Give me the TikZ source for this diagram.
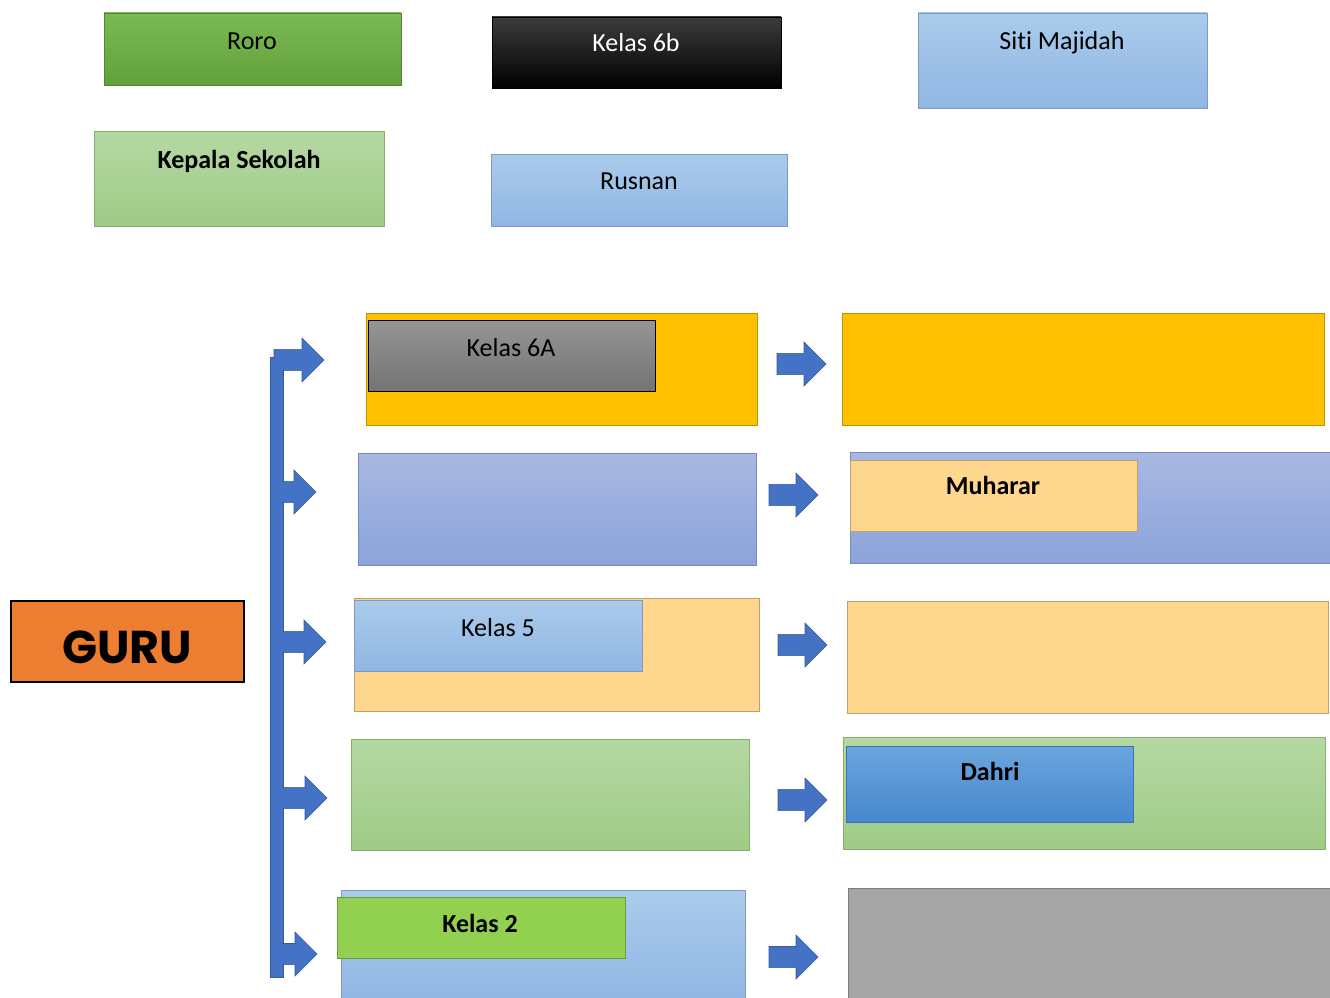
\documentclass[tikz,border=0pt]{standalone}
\usepackage{fontspec}
\setmainfont[Ligatures=NoCommon]{Carlito}
\newfontfamily\gurufont{Poppins}
\definecolor{grnA}{HTML}{7BBA53}\definecolor{grnB}{HTML}{62A03B}
\definecolor{blkA}{HTML}{3C3C3C}\definecolor{blkB}{HTML}{000000}
\definecolor{lblA}{HTML}{AACBEB}\definecolor{lblB}{HTML}{91B6E3}
\definecolor{lgrA}{HTML}{B5D8A3}\definecolor{lgrB}{HTML}{9FCB86}
\definecolor{gold}{HTML}{FFC000}
\definecolor{gryA}{HTML}{959595}\definecolor{gryB}{HTML}{747474}
\definecolor{purA}{HTML}{A9B8E2}\definecolor{purB}{HTML}{8BA4DB}
\definecolor{lor}{HTML}{FFD68D}
\definecolor{dbA}{HTML}{6BA5DE}\definecolor{dbB}{HTML}{4787CE}
\definecolor{lime}{HTML}{92D050}
\definecolor{gryR}{HTML}{A5A5A5}
\definecolor{guru}{HTML}{ED7D31}
\definecolor{arr}{HTML}{4472C4}
\tikzset{
  gbox/.style n args={2}{top color=#1, bottom color=#2, draw=#2!85!black, line width=0.8pt},
  fbox/.style={fill=#1, draw=#1!75!black, line width=0.8pt},
  txt/.style={anchor=base, inner sep=0pt, font=\fontsize{26}{30}\selectfont},
  btxt/.style={txt, font=\fontsize{26}{30}\selectfont\bfseries},
  arrowc/.style={fill=arr, draw=arr!80!black, line width=0.6pt, line join=miter},
}
\newcommand\rbox[6]{\node[#6, minimum width={#4-#2}, minimum height={#5-#3}, inner sep=0pt, outer sep=0pt] (#1) at ({(#2+#4)/2},{(#3+#5)/2}) {};}
% name, xstart, xtip, y, headhalf
\newcommand\barrow[5]{%
  \coordinate (#1s) at (#2,#4); \coordinate (#1t) at (#3,#4);
  \draw[arrowc] ({#2},{#4-#5*0.48}) -- ({#3-#5},{#4-#5*0.48}) -- ({#3-#5},{#4-#5}) -- (#1t) -- ({#3-#5},{#4+#5}) -- ({#3-#5},{#4+#5*0.48}) -- ({#2},{#4+#5*0.48}) -- cycle;}
\begin{document}
\begin{tikzpicture}[x=1pt,y=-1pt]
\useasboundingbox[fill=white] (0,0) rectangle (1330,998);
% top boxes
\rbox{roro}{104}{13}{401}{85}{gbox={grnA}{grnB}}
\node[txt] (troro) at (252,50) {Roro};
\rbox{k6b}{492}{17}{781}{88}{gbox={blkA}{blkB}}
\node[txt, text=white] (tk6b) at (636,52) {Kelas 6b};
\rbox{siti}{918}{13}{1207}{108}{gbox={lblA}{lblB}}
\node[txt] (tsiti) at (1062,50) {Siti Majidah};
\rbox{kepsek}{94}{131}{384}{226}{gbox={lgrA}{lgrB}}
\node[btxt] (tkepsek) at (239,168) {Kepala Sekolah};
\rbox{rusnan}{491}{154}{787}{226}{gbox={lblA}{lblB}}
\node[txt] (trusnan) at (639,189) {Rusnan};
% GURU
\node[fill=guru, draw=black, line width=2pt, minimum width=233, minimum height=81, inner sep=0pt] (guru) at (127.5,641.5) {};
\node[anchor=base, inner sep=0pt, font=\gurufont\fontsize{46}{50}\selectfont\bfseries] (tguru) at (127,663) {GURU};
% row 1
\rbox{l1}{366}{313}{757}{425}{fbox=gold}
\rbox{k6a}{368}{320}{655}{391}{top color=gryA, bottom color=gryB, draw=black, line width=1pt}
\node[txt] (tk6a) at (511,356) {Kelas 6A};
\rbox{r1}{842}{313}{1324}{425}{fbox=gold}
% row 2
\rbox{l2}{358}{453}{756}{565}{gbox={purA}{purB}}
\rbox{r2}{850}{452}{1330}{563}{gbox={purA}{purB}}
\rbox{muh}{850}{460}{1137}{531}{fbox=lor}
\node[btxt] (tmuh) at (993,494) {Muharar};
% row 3
\rbox{l3}{354}{598}{759}{711}{fbox=lor}
\rbox{k5}{354}{600}{642}{671}{gbox={lblA}{lblB}}
\node[txt] (tk5) at (498,636) {Kelas 5};
\rbox{r3}{847}{601}{1328}{713}{fbox=lor}
% row 4
\rbox{l4}{351}{739}{749}{850}{gbox={lgrA}{lgrB}}
\rbox{r4}{843}{737}{1325}{849}{gbox={lgrA}{lgrB}}
\rbox{dahri}{846}{746}{1133}{822}{gbox={dbA}{dbB}}
\node[btxt] (tdahri) at (990,780) {Dahri};
% row 5
\rbox{l5}{341}{890}{745}{1002}{gbox={lblA}{lblB}}
\rbox{k2}{337}{897}{625}{958}{fbox=lime}
\node[btxt] (tk2) at (480,932) {Kelas 2};
\rbox{r5}{848}{888}{1330}{1002}{fbox=gryR}
% right arrows
\barrow{ra1}{777}{826}{364}{22}
\barrow{ra2}{769}{818}{495}{22}
\barrow{ra3}{778}{827}{645}{22}
\barrow{ra4}{778}{827}{800}{22}
\barrow{ra5}{769}{818}{957}{22}
% bracket
\coordinate (bartop) at (270,357);
\coordinate (barbot) at (283,977);
\draw[arrowc] (bartop) rectangle (barbot);
\barrow{la1}{274}{324}{360}{22}
\barrow{la2}{276}{316}{492}{22}
\barrow{la3}{276}{326}{642}{22}
\barrow{la4}{276}{327}{798}{22}
\barrow{la5}{276}{317}{954}{22}
\fill[arr] (271,359) rectangle (282,976);
\end{tikzpicture}
\end{document}
